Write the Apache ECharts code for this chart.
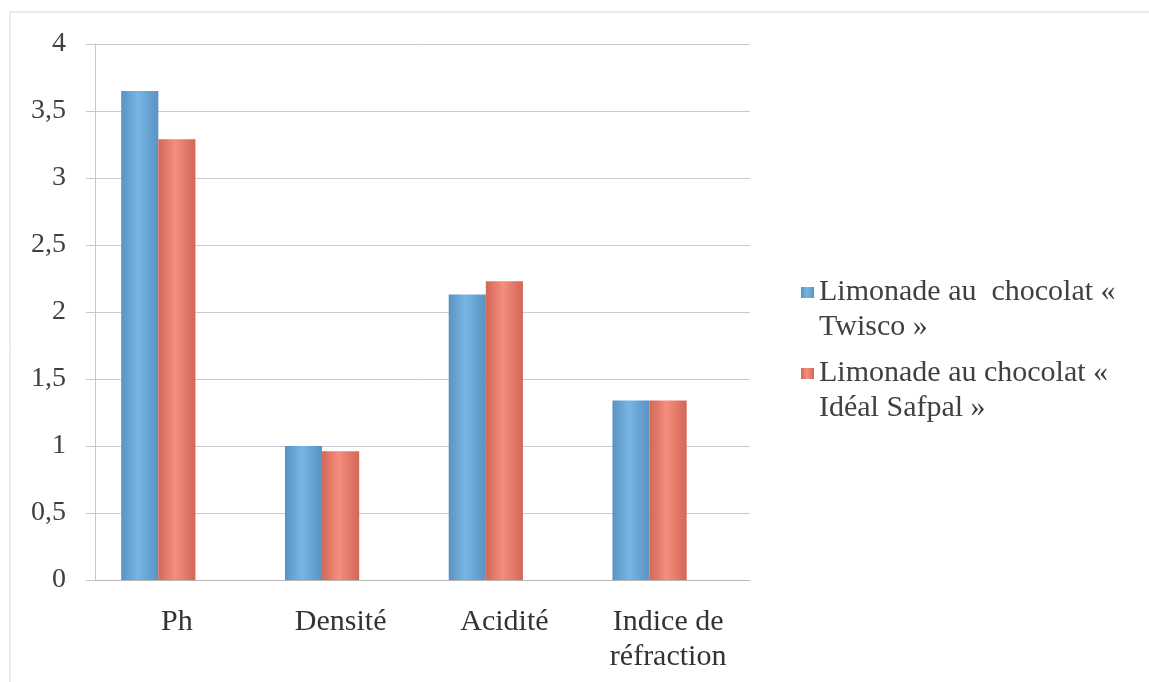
<!DOCTYPE html>
<html lang="fr">
<head>
    <meta charset="UTF-8">
    <title>Limonade au chocolat</title>
    <style>
        html, body, #echarts {
            margin: 0;
            padding: 0;
            width: 100%;
            height: 100%;
            background: #fff;
        }
    </style>
</head>
<body>
    <div id="echarts"></div>
    <script src="https://cdn.jsdelivr.net/npm/echarts@6/dist/echarts.min.js"></script>
    <script>
        // categories et valeurs
        var categories = ['Ph', 'Densité', 'Acidité', 'Indice de\nréfraction'];
        var twisco = [3.65, 1.0, 2.13, 1.34];
        var safpal = [3.29, 0.96, 2.23, 1.34];
        // troisième série vide dans l'original (garde la place à droite des barres)
        var vide = [null, null, null, null];
        var seriesNames = ['Limonade au  chocolat «\nTwisco »', 'Limonade au chocolat «\nIdéal Safpal »'];
        var yTicks = { min: 0, max: 4, interval: 0.5 };

        var serif = '"Liberation Serif", "DejaVu Serif", serif';

        function barGradient(edge, mid) {
            return new echarts.graphic.LinearGradient(0, 0, 1, 0, [
                { offset: 0, color: edge },
                { offset: 0.45, color: mid },
                { offset: 1, color: edge }
            ]);
        }

        var myChart = echarts.init(document.getElementById('echarts'));

        myChart.setOption({
            animation: false,
            grid: { left: 95, right: 399, top: 44, bottom: 102 },
            graphic: [{
                type: 'rect',
                shape: { x: 10, y: 12, width: 1160, height: 700 },
                style: { fill: 'none', stroke: '#d8d8d8', lineWidth: 1 }
            }],
            legend: {
                orient: 'vertical',
                left: 796,
                top: 235,
                itemWidth: 13,
                itemHeight: 11,
                itemGap: -24,
                icon: 'rect',
                formatter: function (name) { return '\n' + name; },
                textStyle: {
                    fontFamily: serif,
                    fontSize: 30,
                    color: '#404040',
                    lineHeight: 35
                },
                data: seriesNames
            },
            xAxis: {
                type: 'category',
                data: categories,
                axisLine: { lineStyle: { color: '#b8b8b8' } },
                axisTick: { length: 8, lineStyle: { color: '#b8b8b8' } },
                axisLabel: {
                    fontFamily: serif,
                    fontSize: 30,
                    color: '#333',
                    margin: 25,
                    lineHeight: 35
                }
            },
            yAxis: {
                type: 'value',
                min: yTicks.min,
                max: yTicks.max,
                interval: yTicks.interval,
                axisLine: { show: true, lineStyle: { color: '#c8c8c8' } },
                axisTick: { show: true, length: 9, lineStyle: { color: '#c8c8c8' } },
                splitLine: { lineStyle: { color: '#c8ccd0' } },
                axisLabel: {
                    fontFamily: serif,
                    fontSize: 28,
                    color: '#404040',
                    margin: 29,
                    formatter: function (v) { return String(v).replace('.', ','); }
                }
            },
            series: [{
                name: seriesNames[0],
                type: 'bar',
                data: twisco,
                barGap: '0%',
                barCategoryGap: '32%',
                itemStyle: { color: barGradient('#5a92c4', '#76b6e2') }
            }, {
                name: seriesNames[1],
                type: 'bar',
                data: safpal,
                itemStyle: { color: barGradient('#d46656', '#f48e7e') }
            }, {
                name: 'vide',
                type: 'bar',
                data: vide
            }]
        });

        window.addEventListener('resize', function () {
            myChart.resize();
        });
    </script>
</body>
</html>
